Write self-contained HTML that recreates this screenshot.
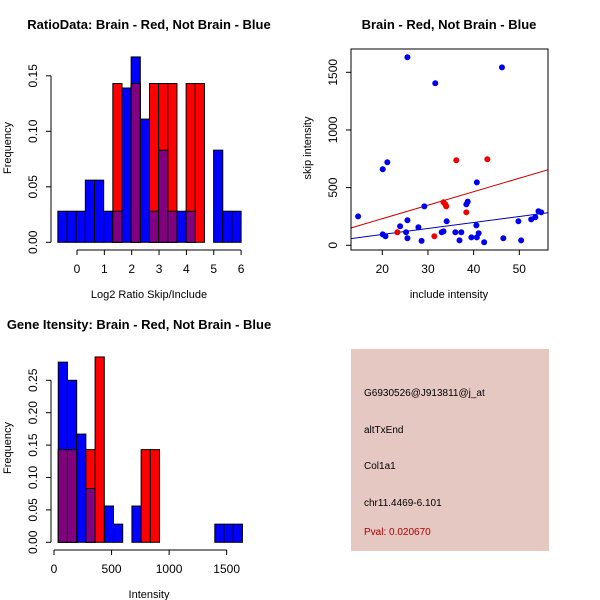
<!DOCTYPE html>
<html><head><meta charset="utf-8"><style>
html,body{margin:0;padding:0;background:#fff}
svg{display:block;font-family:"Liberation Sans",sans-serif}
</style></head><body>
<svg id="c" width="600" height="600" viewBox="0 0 600 600" xmlns="http://www.w3.org/2000/svg">
<rect width="600" height="600" fill="#fff"/>
<g id="p1"></g>
<g id="p2"></g>
<g id="p3"></g>
<g id="p4">
<rect x="351" y="349" width="198" height="202" fill="#e6c8c2"/>
<text x="364" y="396" font-size="10" fill="#000">G6930526@J913811@j_at</text>
<text x="364" y="433" font-size="10" fill="#000">altTxEnd</text>
<text x="364" y="469" font-size="10" fill="#000">Col1a1</text>
<text x="364" y="506" font-size="10" fill="#000">chr11.4469-6.101</text>
<text x="364" y="535" font-size="10" fill="#b00000">Pval: 0.020670</text>
</g>
</svg>
<script>
// ---- Plot 1 data: ratio histogram ----
const ratioBinStart = -0.7;
const ratioBinWidth = 0.335;
const ratioBlue = [0.028,0.028,0.028,0.056,0.056,0.028,0.028,0.139,0.167,0.111,0.028,0.083,0.028,0.028,0.028,0,0,0.083,0.028,0.028];
const ratioRed  = [0,0,0,0,0,0,0.143,0,0.143,0,0.143,0.143,0.143,0,0.143,0.143,0,0,0,0];
const ratioXTicks = [0,1,2,3,4,5,6];
const ratioYTicks = [0,0.05,0.10,0.15];
const ratioYLabels = ["0.00","0.05","0.10","0.15"];
// ---- Plot 2 data: scatter ----
const blueX = [14.7,25.5,31.6,46.2,20.1,21.1,40.7,29.2,38.4,38.7,23.9,25.5,27.9,34.1,25.2,20.1,20.7,25.5,28.6,33.0,33.4,36.0,37.3,36.9,39.5,40.7,41.1,40.6,42.3,46.5,50.4,49.8,52.6,53.5,54.2,54.8];
const blueY = [251,1630,1405,1543,659,720,546,338,355,379,165,217,156,208,113,95,78,61,38,113,121,113,113,43,69,69,104,173,26,61,43,208,225,243,295,286];
const redX = [36.2,43.0,33.4,33.8,34.0,38.4,23.3,31.4];
const redY = [737,746,373,355,338,286,113,78];
const redFit = [-3.3,11.7];
const blueFit = [-10,5.2];
const scatXTicks = [20,30,40,50];
const scatYTicks = [0,500,1000,1500];
// ---- Plot 3 data: intensity histogram ----
const intBinStart = 37;
const intBinWidth = 80;
const intBlue = [0.278,0.25,0.167,0.083,0,0.056,0.028,0,0.056,0,0,0,0,0,0,0,0,0.028,0.028,0.028];
const intRed  = [0.143,0.143,0,0.143,0.286,0,0,0,0,0.143,0.143,0,0,0,0,0,0,0,0,0];
const intXTicks = [0,500,1000,1500];
const intYTicks = [0,0.05,0.10,0.15,0.20,0.25];
const intYLabels = ["0.00","0.05","0.10","0.15","0.20","0.25"];

const NS="http://www.w3.org/2000/svg";
function mk(parent,tag,attrs,txt){const e=document.createElementNS(NS,tag);for(const k in attrs)e.setAttribute(k,attrs[k]);if(txt!==undefined)e.textContent=txt;parent.appendChild(e);return e;}

function hist(g,o){
  const sx=v=>o.x0+(v-o.xv0)*o.kx, sy=v=>o.y0-v*o.ky;
  const draw=(arr,color,nm)=>arr.forEach((v,i)=>{ if(v<=0)return;
    const a=sx(o.start+i*o.bw), b=sx(o.start+(i+1)*o.bw);
    const r=mk(g,'rect',{x:a,y:sy(v),width:b-a,height:sy(0)-sy(v),fill:color,stroke:'#000','stroke-width':1});
    
    
  });
  draw(o.blue,'#0000ff','blue-bar');
  draw(o.red,'#ff0000','red-bar');
  draw(o.blue.map((v,i)=>Math.min(v,o.red[i])),'#800080','overlap-bar');
  const ya=mk(g,'g',{});
  
  
  mk(ya,'line',{x1:o.yax,x2:o.yax,y1:sy(o.yt[0]),y2:sy(o.yt[o.yt.length-1]),stroke:'#000'});
  o.yt.forEach((t,i)=>{const y=sy(t);mk(ya,'line',{x1:o.yax,x2:o.yax-5,y1:y,y2:y,stroke:'#000'});
    const tx=mk(ya,'text',{x:0,y:0,'font-size':12,'text-anchor':'middle',transform:`translate(${o.yax-14},${y}) rotate(-90)`},o.yl[i]);
    
    });
  const xa=mk(g,'g',{});
  
  
  mk(xa,'line',{x1:sx(o.xt[0]),x2:sx(o.xt[o.xt.length-1]),y1:o.xay,y2:o.xay,stroke:'#000'});
  o.xt.forEach(t=>{const x=sx(t);mk(xa,'line',{x1:x,x2:x,y1:o.xay,y2:o.xay+5,stroke:'#000'});
    const tx=mk(xa,'text',{x:x,y:o.xay+23,'font-size':12,'text-anchor':'middle'},String(t));
    
    });
}

// Plot 1
const g1=document.getElementById('p1');
let t=mk(g1,'text',{x:149,y:29,'font-size':13,'font-weight':'bold','text-anchor':'middle'},'RatioData: Brain - Red, Not Brain - Blue');


hist(g1,{x0:77,xv0:0,kx:27.35,y0:242.3,ky:1110,start:ratioBinStart,bw:ratioBinWidth,blue:ratioBlue,red:ratioRed,yt:ratioYTicks,yl:ratioYLabels,xt:ratioXTicks,yax:51,xay:250});
t=mk(g1,'text',{x:149,y:298,'font-size':11,'text-anchor':'middle'},'Log2 Ratio Skip/Include');


t=mk(g1,'text',{x:0,y:0,'font-size':11,'text-anchor':'middle',transform:'translate(11,148) rotate(-90)'},'Frequency');



// Plot 2
const g2=document.getElementById('p2');
const sx2=v=>382.3+(v-20)*4.567, sy2=v=>245.3-v*(173/1500);
t=mk(g2,'text',{x:449,y:29,'font-size':13,'font-weight':'bold','text-anchor':'middle'},'Brain - Red, Not Brain - Blue');


const clip=mk(g2,'clipPath',{id:'cp2'});mk(clip,'rect',{x:351,y:49,width:197,height:201});
const fits=mk(g2,'g',{'clip-path':'url(#cp2)'});
[[redFit,'#cc0000','red-fit-line'],[blueFit,'#0000aa','blue-fit-line']].forEach(([f,c,n])=>{
  const xa=13,xb=57;
  const l=mk(fits,'line',{x1:sx2(xa),y1:sy2(f[0]+f[1]*xa),x2:sx2(xb),y2:sy2(f[0]+f[1]*xb),stroke:c,'stroke-width':1});
  
  
});
blueX.forEach((x,i)=>{const c=mk(g2,'circle',{cx:sx2(x),cy:sy2(blueY[i]),r:3,fill:'#0000ee'});
  
  });
redX.forEach((x,i)=>{const c=mk(g2,'circle',{cx:sx2(x),cy:sy2(redY[i]),r:3,fill:'#ee0000'});
  
  });
t=mk(g2,'rect',{x:351,y:49,width:197,height:201,fill:'none',stroke:'#000'});


scatXTicks.forEach(v=>{const x=sx2(v);mk(g2,'line',{x1:x,x2:x,y1:250,y2:255,stroke:'#000'});
  const tx=mk(g2,'text',{x:x,y:273,'font-size':12,'text-anchor':'middle'},String(v));
  
  });
scatYTicks.forEach(v=>{const y=sy2(v);mk(g2,'line',{x1:351,x2:346,y1:y,y2:y,stroke:'#000'});
  const tx=mk(g2,'text',{x:0,y:0,'font-size':12,'text-anchor':'middle',transform:`translate(337,${y}) rotate(-90)`},String(v));
  
  });
t=mk(g2,'text',{x:449,y:298,'font-size':11,'text-anchor':'middle'},'include intensity');


t=mk(g2,'text',{x:0,y:0,'font-size':11,'text-anchor':'middle',transform:'translate(311,148) rotate(-90)'},'skip intensity');



// Plot 3
const g3=document.getElementById('p3');
t=mk(g3,'text',{x:139,y:329,'font-size':13,'font-weight':'bold','text-anchor':'middle'},'Gene Itensity: Brain - Red, Not Brain - Blue');


hist(g3,{x0:54,xv0:0,kx:0.1151,y0:542.3,ky:648,start:intBinStart,bw:intBinWidth,blue:intBlue,red:intRed,yt:intYTicks,yl:intYLabels,xt:intXTicks,yax:51,xay:550});
t=mk(g3,'text',{x:149,y:598,'font-size':11,'text-anchor':'middle'},'Intensity');


t=mk(g3,'text',{x:0,y:0,'font-size':11,'text-anchor':'middle',transform:'translate(11,448) rotate(-90)'},'Frequency');


</script>
</body></html>
